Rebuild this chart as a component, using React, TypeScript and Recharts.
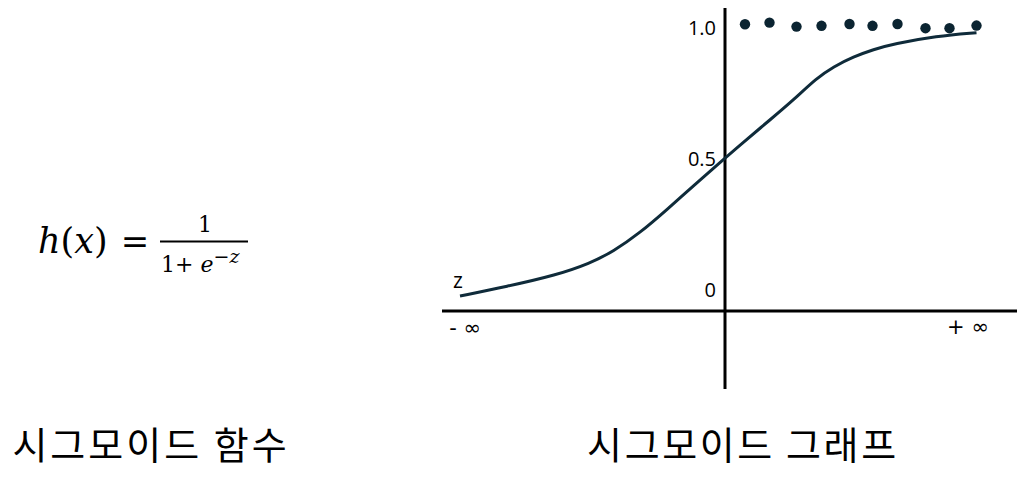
import React from 'react';
import { ComposedChart, Line, Scatter, XAxis, YAxis, ReferenceLine, ReferenceDot } from 'recharts';

// Sigmoid curve (z, h)
const curveZ = [-5.3, -4.37, -3.37, -2.7, -2.24, -1.7, -1.17, -0.5, 0, 0.3, 0.9, 1.37, 1.83, 2.17, 2.57, 2.97, 3.37, 4.23, 5.03];
const curveH = [-0.023, 0.013, 0.057, 0.102, 0.146, 0.218, 0.305, 0.42, 0.503, 0.553, 0.649, 0.725, 0.808, 0.852, 0.89, 0.918, 0.939, 0.969, 0.982];

// Dots near h = 1
const dotZ = [0.4, 0.89, 1.43, 1.93, 2.49, 2.95, 3.45, 4.01, 4.49, 5.03];
const dotH = [1.014, 1.02, 1.005, 1.008, 1.015, 1.008, 1.015, 0.999, 0.999, 1.009];

// Y tick labels
const yTickValues = [0, 0.5, 1.0];
const yTickLabels = ['0', '0.5', '1.0'];

// Axis annotations
const axisLabels = ['z', '- ∞', '+ ∞'];
const axisLabelZ = [-5.34, -5.2, 4.86];
const axisLabelH = [0.034, -0.145, -0.141];

const captions = ['시그모이드 함수', '시그모이드 그래프'];

const X_DOMAIN: [number, number] = [-5.66, 5.84];
const Y_DOMAIN: [number, number] = [-0.378, 1.076];
const H_AXIS_Y = -0.08;

const curveData = curveZ.map((x, i) => ({ x, y: curveH[i] }));
const dotData = dotZ.map((x, i) => ({ x, y: dotH[i] }));

const LINE_COLOR = '#0f2b3a';
const DOT_COLOR = '#0b2431';
const SANS = '"Open Sans", "Noto Sans", "DejaVu Sans", sans-serif';
const INF_FONT = '"DejaVu Sans", sans-serif';
const MATH = '"DejaVu Serif", "Liberation Serif", serif';
const KR = '"Noto Sans CJK KR", sans-serif';

const DotShape = (props: any) => (
  <circle cx={props.cx} cy={props.cy} r={5.2} fill={DOT_COLOR} />
);

export default function App() {
  return (
    <div style={{ position: 'absolute', left: 0, top: 0, width: 1028, height: 482, background: '#fff', overflow: 'hidden' }}>
      <ComposedChart
        width={1028}
        height={482}
        margin={{ top: 8, right: 11, bottom: 93, left: 442 }}
      >
        <XAxis dataKey="x" type="number" domain={X_DOMAIN} hide allowDataOverflow />
        <YAxis dataKey="y" type="number" domain={Y_DOMAIN} hide allowDataOverflow />
        <ReferenceLine y={H_AXIS_Y} stroke="#000" strokeWidth={3} />
        <ReferenceLine x={0} stroke="#000" strokeWidth={3} />
        <Line
          data={curveData}
          dataKey="y"
          type="basis"
          stroke={LINE_COLOR}
          strokeWidth={3}
          dot={false}
          activeDot={false}
          isAnimationActive={false}
        />
        <Scatter data={dotData} dataKey="y" fill={DOT_COLOR} shape={DotShape} isAnimationActive={false} />
        {yTickValues.map((v, i) => (
          <ReferenceDot
            key={'yt' + i}
            x={0}
            y={v}
            r={0}
            fill="none"
            stroke="none"
            label={{ value: yTickLabels[i], position: 'left', offset: 9, fill: '#000', fontSize: 20, fontFamily: SANS }}
          />
        ))}
        <ReferenceDot
          x={axisLabelZ[0]}
          y={axisLabelH[0]}
          r={0}
          fill="none"
          stroke="none"
          label={{ value: axisLabels[0], position: 'center', fill: '#000', fontSize: 21, fontFamily: SANS }}
        />
        {[1, 2].map((i) => (
          <ReferenceDot
            key={'al' + i}
            x={axisLabelZ[i]}
            y={axisLabelH[i]}
            r={0}
            fill="none"
            stroke="none"
            label={{ value: axisLabels[i], position: 'center', fill: '#000', fontSize: 21, fontFamily: INF_FONT }}
          />
        ))}
      </ComposedChart>
      <svg width={1028} height={482} style={{ position: 'absolute', left: 0, top: 0, pointerEvents: 'none' }}>
        <text x={38} y={253} fontFamily={MATH} fontSize={35} fill="#000">
          <tspan fontStyle="italic">h</tspan>
          <tspan>(</tspan>
          <tspan fontStyle="italic">x</tspan>
          <tspan>)</tspan>
        </text>
        <text x={135} y={253} fontFamily={MATH} fontSize={34} fill="#000" textAnchor="middle">=</text>
        <line x1={160} x2={248} y1={241.5} y2={241.5} stroke="#000" strokeWidth={2} />
        <text x={205} y={232} fontFamily={MATH} fontSize={22} fill="#000" textAnchor="middle">1</text>
        <text x={161} y={272} fontFamily={MATH} fontSize={22} fill="#000">
          <tspan>1+ </tspan>
          <tspan fontStyle="italic">e</tspan>
          <tspan fontSize={19} dy={-9}>−</tspan>
          <tspan fontSize={19} fontStyle="italic">z</tspan>
        </text>
        <text x={151} y={459} fontFamily={KR} fontSize={38} letterSpacing={3} fill="#000" textAnchor="middle">{captions[0]}</text>
        <text x={742.9} y={459} fontFamily={KR} fontSize={38} letterSpacing={2.6} fill="#000" textAnchor="middle">{captions[1]}</text>
      </svg>
    </div>
  );
}
